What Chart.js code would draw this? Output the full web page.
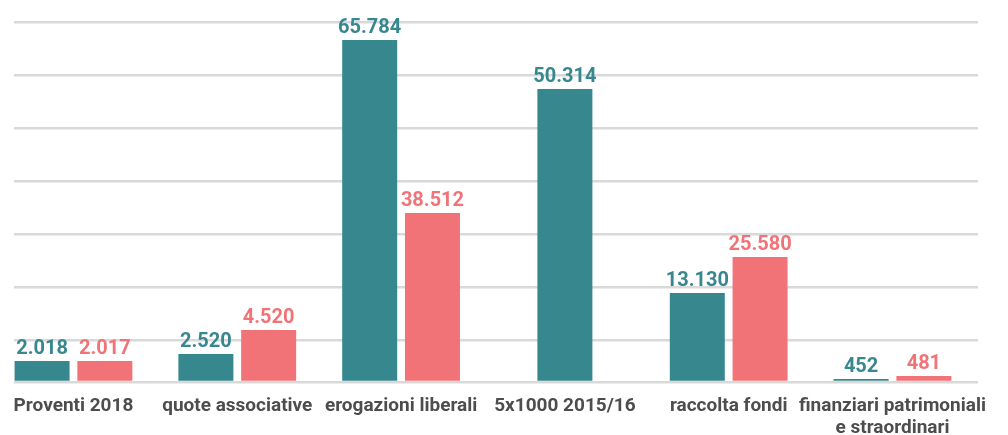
<!DOCTYPE html>
<html>
<head>
<meta charset="utf-8">
<script src="https://cdn.jsdelivr.net/npm/chart.js@4.4.1/dist/chart.umd.min.js"></script>
<style>
  html, body { margin: 0; padding: 0; background: #fff; }
  #wrap { width: 1008px; height: 435px; position: relative; }
</style>
</head>
<body>
<div id="wrap"><canvas id="proventiChart"></canvas></div>
<script>
// Categorie
const categorie = [
    'Proventi 2018',
    'quote associative',
    'erogazioni liberali',
    '5x1000 2015/16',
    'raccolta fondi',
    ['finanziari patrimoniali', 'e straordinari']
];

// Valori scritti sopra le barre
const valoriVerde = [2018, 2520, 65784, 50314, 13130, 452];
const valoriRosa = [2017, 4520, 38512, null, 25580, 481];

// Altezza delle barre come disegnata nel grafico (non proporzionale ai valori)
const altezzeVerde = [21, 28, 342, 293, 89, 3];
const altezzeRosa = [21, 52, 169, null, 125, 6];

// Linee della griglia
const lineeGriglia = [0, 42, 95, 148, 201, 254, 307, 360];

const VERDE = '#37878f';
const ROSA = '#f27377';

function formatta(v) {
    return String(v).replace(/\B(?=(\d{3})+(?!\d))/g, '.');
}

// Etichette sopra le barre
const etichettePlugin = {
    id: 'etichette',
    afterDatasetsDraw(chart) {
        const ctx = chart.ctx;
        ctx.save();
        ctx.font = 'bold 20px Roboto';
        ctx.textAlign = 'center';
        ctx.textBaseline = 'alphabetic';
        chart.data.datasets.forEach((ds, i) => {
            const meta = chart.getDatasetMeta(i);
            meta.data.forEach((bar, j) => {
                const v = ds.valori[j];
                if (v == null) return;
                ctx.fillStyle = ds.backgroundColor;
                ctx.fillText(formatta(v), bar.x, bar.y - 7);
            });
        });
        ctx.restore();
    }
};

const ctx = document.getElementById('proventiChart').getContext('2d');
const proventiChart = new Chart(ctx, {
    type: 'bar',
    data: {
        datasets: [{
            label: 'A',
            data: altezzeVerde.map((h, i) => ({ x: i, y: h })),
            valori: valoriVerde,
            backgroundColor: VERDE
        }, {
            label: 'B',
            data: altezzeRosa.map((h, i) => ({ x: i, y: h })),
            valori: valoriRosa,
            backgroundColor: ROSA
        }]
    },
    options: {
        responsive: true,
        maintainAspectRatio: false,
        animation: false,
        skipNull: true,
        categoryPercentage: 0.7664,
        barPercentage: 1,
        maxBarThickness: 55,
        layout: {
            padding: { left: 10, right: 30, top: 22, bottom: 0 }
        },
        plugins: {
            legend: { display: false },
            tooltip: { enabled: false }
        },
        scales: {
            x: {
                type: 'linear',
                offset: false,
                min: -0.366,
                max: 5.522,
                grid: { display: false, drawTicks: false },
                border: { display: false },
                afterBuildTicks: function(scale) {
                    scale.ticks = categorie.map((c, i) => ({ value: i }));
                },
                afterFit: function(scale) {
                    scale.height = 53;
                },
                ticks: {
                    autoSkip: false,
                    maxRotation: 0,
                    padding: 13,
                    color: '#4d4d4d',
                    font: { family: 'Roboto', size: 19, weight: 'bold', lineHeight: 1.15 },
                    callback: function(value) {
                        return categorie[value];
                    }
                }
            },
            y: {
                min: 0,
                max: 360,
                grid: { color: '#d9d9d9', lineWidth: 2.5, drawTicks: false },
                border: { display: false },
                afterBuildTicks: function(scale) {
                    scale.ticks = lineeGriglia.map(v => ({ value: v }));
                },
                afterFit: function(scale) {
                    scale.width = 0;
                },
                ticks: { display: false }
            }
        }
    },
    plugins: [etichettePlugin]
});
</script>
</body>
</html>
